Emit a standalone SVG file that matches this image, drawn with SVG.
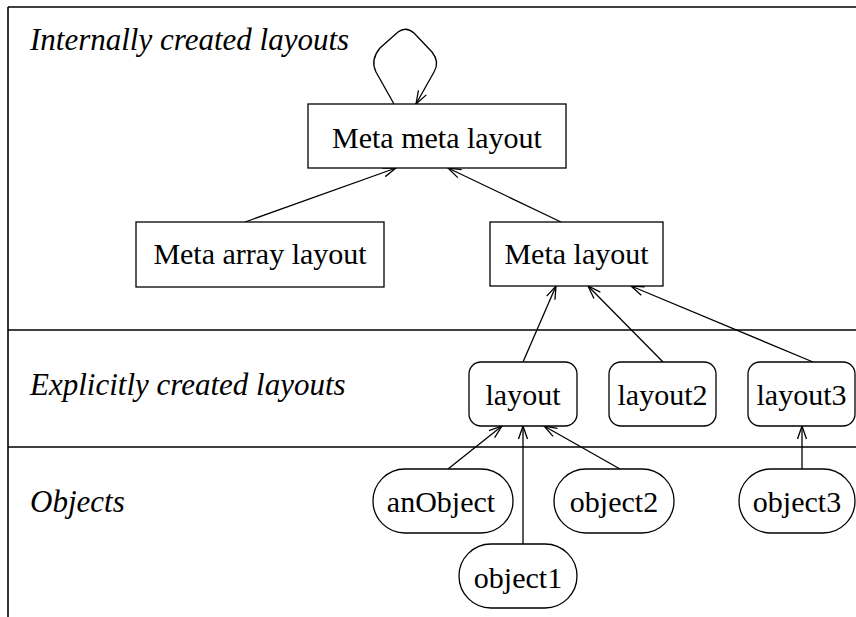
<svg xmlns="http://www.w3.org/2000/svg" xmlns:xlink="http://www.w3.org/1999/xlink" width="856" height="617" viewBox="0 0 856 617">
<style>
.frame{stroke:#000;stroke-width:1.6;fill:none}
.node{fill:#fff;stroke:#000;stroke-width:1.3}
.edge{stroke:#000;stroke-width:1.3;fill:none}
.t{fill:#000;text-anchor:middle}
.lbl{fill:#000}
</style>
<defs>
<path id="ah" d="M-13,-4.5 L0,0 L-13,4.5" fill="none" stroke="#000" stroke-width="1.3"/>
</defs>
<g id="frame">
<line class="frame" x1="8" y1="7" x2="856" y2="7"/>
<line class="frame" x1="8" y1="7" x2="8" y2="617"/>
<line class="frame" x1="8" y1="330" x2="856" y2="330"/>
<line class="frame" x1="8" y1="447" x2="856" y2="447"/>
<text class="lbl" x="30" y="50" style="font-family:'Liberation Serif',serif;font-style:italic;font-size:31px">Internally created layouts</text>
<text class="lbl" x="30" y="395" style="font-family:'Liberation Serif',serif;font-style:italic;font-size:31px">Explicitly created layouts</text>
<text class="lbl" x="30" y="512" style="font-family:'Liberation Serif',serif;font-style:italic;font-size:31px">Objects</text>
</g>
<g id="connectors">
<path class="edge" d="M394,104 L376,72 Q370,60 380,48 L398,32 Q406,26 414,33 L432,52 Q440,62 434,72 L416,104"/>
<use href="#ah" xlink:href="#ah" transform="translate(416,104) rotate(119.4)"/>
<line class="edge" x1="245" y1="222" x2="396" y2="168"/>
<use href="#ah" xlink:href="#ah" transform="translate(396,168) rotate(-19.7)"/>
<line class="edge" x1="561" y1="222" x2="448" y2="168"/>
<use href="#ah" xlink:href="#ah" transform="translate(448,168) rotate(-154.5)"/>
<line class="edge" x1="523" y1="362" x2="556" y2="286"/>
<use href="#ah" xlink:href="#ah" transform="translate(556,286) rotate(-66.5)"/>
<line class="edge" x1="663" y1="362" x2="588" y2="286"/>
<use href="#ah" xlink:href="#ah" transform="translate(588,286) rotate(-134.6)"/>
<line class="edge" x1="813" y1="362" x2="631" y2="286"/>
<use href="#ah" xlink:href="#ah" transform="translate(631,286) rotate(-157.3)"/>
<line class="edge" x1="448" y1="469" x2="502" y2="426"/>
<use href="#ah" xlink:href="#ah" transform="translate(502,426) rotate(-38.5)"/>
<line class="edge" x1="523" y1="544" x2="523" y2="426"/>
<use href="#ah" xlink:href="#ah" transform="translate(523,426) rotate(-90)"/>
<line class="edge" x1="620" y1="469" x2="544" y2="426"/>
<use href="#ah" xlink:href="#ah" transform="translate(544,426) rotate(-150.5)"/>
<line class="edge" x1="802" y1="469" x2="802" y2="426"/>
<use href="#ah" xlink:href="#ah" transform="translate(802,426) rotate(-90)"/>
</g>
<g id="metametalayout">
<rect class="node" x="308" y="104" width="258" height="64"/>
<text class="t" x="437" y="148" style="font-family:'Liberation Serif',serif;font-size:30px">Meta meta layout</text>
</g>
<g id="metaarraylayout">
<rect class="node" x="136" y="222" width="248" height="65"/>
<text class="t" x="260" y="264" style="font-family:'Liberation Serif',serif;font-size:30px">Meta array layout</text>
</g>
<g id="metalayout">
<rect class="node" x="490" y="222" width="173" height="64"/>
<text class="t" x="576.5" y="264" style="font-family:'Liberation Serif',serif;font-size:30px">Meta layout</text>
</g>
<g id="layout">
<rect class="node" x="469" y="362" width="108" height="64" rx="12"/>
<text class="t" x="523" y="405" style="font-family:'Liberation Serif',serif;font-size:30px">layout</text>
</g>
<g id="layout2">
<rect class="node" x="609" y="362" width="107" height="64" rx="12"/>
<text class="t" x="662.5" y="405" style="font-family:'Liberation Serif',serif;font-size:30px">layout2</text>
</g>
<g id="layout3">
<rect class="node" x="748" y="362" width="107" height="64" rx="12"/>
<text class="t" x="801.5" y="405" style="font-family:'Liberation Serif',serif;font-size:30px">layout3</text>
</g>
<g id="anObject">
<rect class="node" x="373" y="469" width="140" height="64" rx="32"/>
<text class="t" x="441" y="512" style="font-family:'Liberation Serif',serif;font-size:30px">anObject</text>
</g>
<g id="object2">
<rect class="node" x="554" y="469" width="120" height="64" rx="32"/>
<text class="t" x="614" y="512" style="font-family:'Liberation Serif',serif;font-size:30px">object2</text>
</g>
<g id="object3">
<rect class="node" x="739" y="469" width="116" height="64" rx="32"/>
<text class="t" x="797" y="512" style="font-family:'Liberation Serif',serif;font-size:30px">object3</text>
</g>
<g id="object1">
<rect class="node" x="459" y="544" width="118" height="64" rx="32"/>
<text class="t" x="518" y="588" style="font-family:'Liberation Serif',serif;font-size:30px">object1</text>
</g>
</svg>
